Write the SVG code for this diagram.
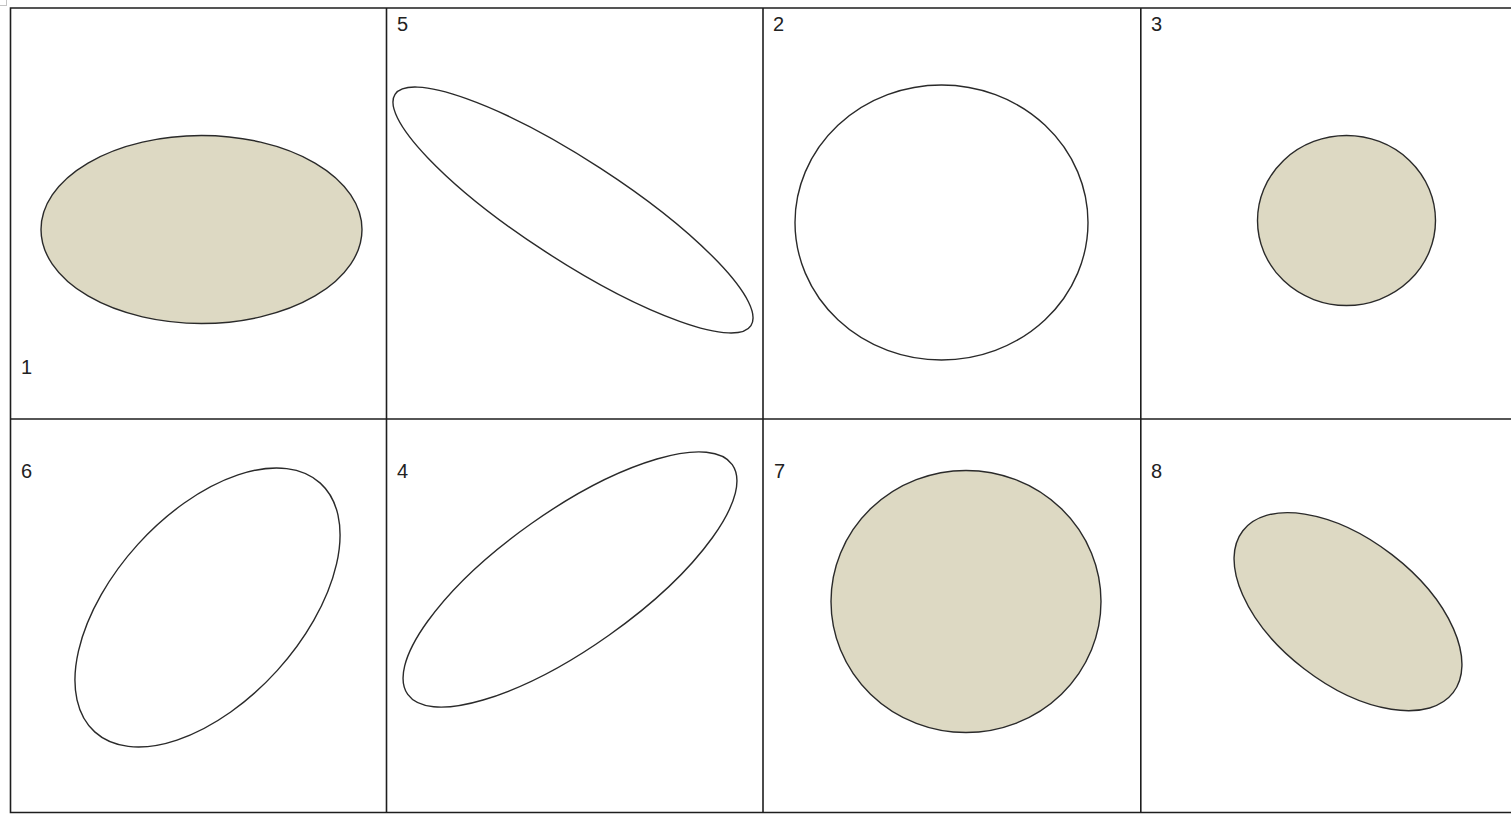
<svg xmlns="http://www.w3.org/2000/svg" width="1511" height="815" viewBox="0 0 1511 815">
<style>
.grid{stroke:#1e1e1e;stroke-width:1.6;fill:none}
.shape{stroke:#2a2a2a;stroke-width:1.4;fill:none}
.filled{fill:#ddd9c3}
.lbl{font-family:"Liberation Sans",Arial,sans-serif;font-size:20px;fill:#222}
</style>
<rect x="0" y="0" width="1511" height="815" fill="#ffffff"/>
<rect x="-1" y="-1" width="7.5" height="6.5" fill="none" stroke="#c4c4c4" stroke-width="1"/>
<g id="table">
<polyline class="grid" points="1512,8 10.5,8 10.5,812.5 1512,812.5"/>
<line class="grid" x1="386.5" y1="8" x2="386.5" y2="812.5"/>
<line class="grid" x1="763" y1="8" x2="763" y2="812.5"/>
<line class="grid" x1="1140.8" y1="8" x2="1140.8" y2="812.5"/>
<line class="grid" x1="10.5" y1="419" x2="1512" y2="419"/>
</g>
<g id="cell1">
<ellipse class="shape filled" cx="201.5" cy="229.5" rx="160.5" ry="94"/>
<text class="lbl" x="21" y="374">1</text>
</g>
<g id="cell5">
<ellipse class="shape" cx="573" cy="210" rx="212.2" ry="50" transform="rotate(33 573 210)"/>
<text class="lbl" x="397" y="31">5</text>
</g>
<g id="cell2">
<ellipse class="shape" cx="941.5" cy="222.5" rx="146.5" ry="137.5"/>
<text class="lbl" x="773" y="31">2</text>
</g>
<g id="cell3">
<ellipse class="shape filled" cx="1346.5" cy="220.5" rx="89" ry="85"/>
<text class="lbl" x="1151" y="31">3</text>
</g>
<g id="cell6">
<ellipse class="shape" cx="207.5" cy="607.5" rx="167.9" ry="94" transform="rotate(-47.8 207.5 607.5)"/>
<text class="lbl" x="21" y="478">6</text>
</g>
<g id="cell4">
<ellipse class="shape" cx="570" cy="579.5" rx="198.8" ry="68" transform="rotate(-35.3 570 579.5)"/>
<text class="lbl" x="397" y="478">4</text>
</g>
<g id="cell7">
<ellipse class="shape filled" cx="966" cy="601.5" rx="135" ry="131"/>
<text class="lbl" x="774" y="478">7</text>
</g>
<g id="cell8">
<ellipse class="shape filled" cx="1348" cy="611.7" rx="132.7" ry="72" transform="rotate(37.6 1348 611.7)"/>
<text class="lbl" x="1151" y="478">8</text>
</g>
<g id="connectors"></g>
</svg>
